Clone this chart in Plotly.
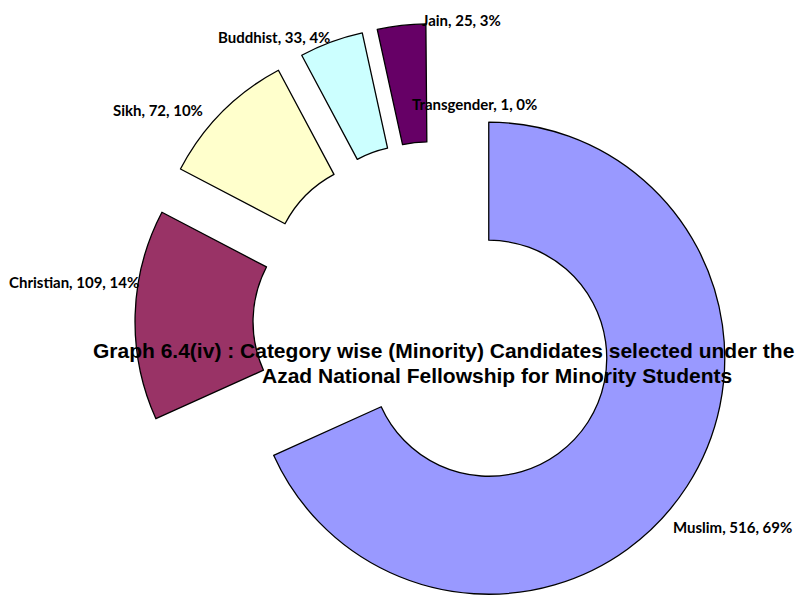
import numpy as np
import plotly.graph_objects as go

# data
labels = ["Muslim", "Christian", "Sikh", "Buddhist", "Jain", "Transgender"]
values = [516, 109, 72, 33, 25, 1]
percents = [69, 14, 10, 4, 3, 0]   # as printed on the chart
colors = ["#9999FF", "#993366", "#FFFFCC", "#CCFFFF", "#660066", "white"]  # transgender slice is too thin to show

title_lines = ["Graph 6.4(iv) : Category wise (Minority) Candidates selected under the",
               "Azad National Fellowship for Minority Students"]

W, H = 796, 595
cx, cy = 435, 323.5   # centre of the pie before exploding (px)
R = 236               # outer radius (px)
explode = 64          # every slice pulled out by this many px

# label centres (px), excel-style placement
label_pos = [(732, 527), (74, 282), (158, 110), (274, 37), (461, 20), (474, 104)]

vals = np.array(values, dtype=float)
frac = vals / vals.sum()
mids = (np.cumsum(frac) - frac / 2) * 2 * np.pi

fig = go.Figure()

# one trace per slice so each can be shifted on its own
for k in range(len(labels)):
    sx = cx + explode * np.sin(mids[k])
    sy = cy - explode * np.cos(mids[k])
    show = [i == k for i in range(len(labels))]
    lw = 0 if colors[k] == "white" else 1.3
    fig.add_trace(go.Pie(
        values=values, labels=labels, sort=False, direction="clockwise", rotation=0,
        hole=0.5,
        marker=dict(colors=[c if s else "rgba(0,0,0,0)" for c, s in zip(colors, show)],
                    line=dict(color=["black" if s else "rgba(0,0,0,0)" for s in show],
                              width=[lw if s else 0 for s in show])),
        textinfo="none", hoverinfo="skip", showlegend=False,
        domain=dict(x=[(sx - R) / W, (sx + R) / W],
                    y=[1 - (sy + R) / H, 1 - (sy - R) / H]),
    ))

for lab, v, p, (lx, ly) in zip(labels, values, percents, label_pos):
    fig.add_annotation(x=lx / W, y=1 - ly / H, xref="paper", yref="paper",
                       xanchor="center", yanchor="middle",
                       text="{}, {}, {}%".format(lab, v, p), showarrow=False,
                       font=dict(family="Lato", size=15, color="black", weight="bold"))

# title sits in the middle of the chart, over the slices
fig.add_annotation(x=443 / W, y=1 - 350 / H, xref="paper", yref="paper",
                   xanchor="center", yanchor="middle",
                   text=title_lines[0], showarrow=False,
                   font=dict(family="Liberation Sans", size=21, color="black", weight="bold"))
fig.add_annotation(x=497 / W, y=1 - 375 / H, xref="paper", yref="paper",
                   xanchor="center", yanchor="middle",
                   text=title_lines[1], showarrow=False,
                   font=dict(family="Liberation Sans", size=21, color="black", weight="bold"))

fig.update_layout(width=W, height=H, margin=dict(l=0, r=0, t=0, b=0),
                  paper_bgcolor="white", plot_bgcolor="white")

# drop the default 8px body margin so the figure sits at the page corner
fig.write_html("out.html", config={"displayModeBar": False},
               post_script="document.body.style.margin='0px';")
